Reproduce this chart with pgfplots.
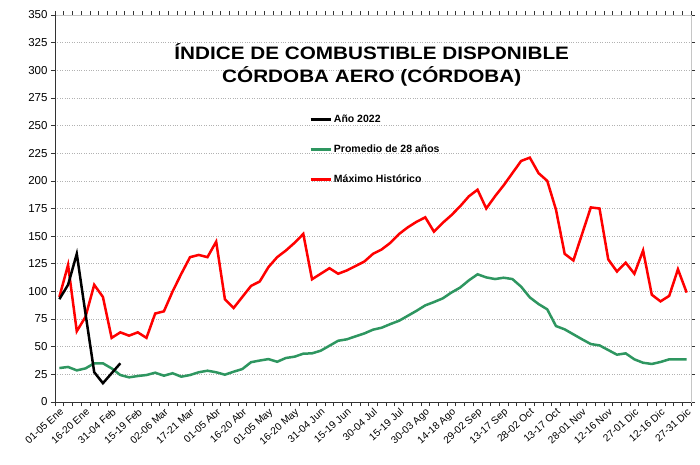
\documentclass[border=0pt]{standalone}
\usepackage{pgfplots}
\pgfplotsset{compat=1.18}
\usepackage{pgfplotstable}
\usepackage{fontspec}
\setmainfont{Liberation Sans}
\definecolor{avg}{RGB}{46,150,96}

\pgfplotstableread{
x red green
0 95 30.7
1 124 31.7
2 64 28.6
3 77 30.4
4 106 35
5 95 35
6 58 30.4
7 63 24.4
8 60 22.3
9 63 23.5
10 58 24.4
11 80 26.5
12 82 23.8
13 100 26
14 116 22.9
15 131 24.4
16 133 26.9
17 131 28.3
18 145 26.9
19 93 24.7
20 85 27.4
21 95 29.8
22 105 36
23 109 37.5
24 122 38.8
25 131 36.4
26 137 39.8
27 144 41
28 152 43.7
29 111 44
30 116 46.4
31 121 50.9
32 116 55.4
33 119 56.7
34 123 59.4
35 127 62
36 134 65.4
37 138 67.2
38 144 70.5
39 152 73.5
40 158 78
41 163 82.5
42 167 87.4
43 154 90.4
44 162 93.7
45 169 99
46 177 103.5
47 186 110
48 192 115.5
49 175 112.7
50 186 111.2
51 196 112.4
52 207 111.2
53 218 104.3
54 221 94.6
55 207 88.6
56 200 83.8
57 174 68.7
58 134 65.7
59 128 61.2
60 152 56.7
61 176 52.4
62 175 51.2
63 129 47
64 118 42.8
65 126 44
66 116 38.6
67 137 35.5
68 97 34.4
69 91 36.2
70 96 38.6
71 120 38.6
72 99 38.6
}\maindata

\pgfplotstableread{
x y
0 93
1 106
2 134
3 80
4 27
5 17
6 26
7 35
}\yeardata

\begin{document}
\begin{tikzpicture}
\begin{axis}[
  at={(0,0)}, anchor=south west,
  scale only axis, width=636pt, height=387pt,
  xmin=-0.5, xmax=72.5, ymin=0, ymax=350,
  ytick={0,25,...,350},
  xtick={0,3,...,72},
  xticklabels={01-05 Ene,16-20 Ene,31-04 Feb,15-19 Feb,02-06 Mar,17-21 Mar,01-05 Abr,16-20 Abr,01-05 May,16-20 May,31-04 Jun,15-19 Jun,30-04 Jul,15-19 Jul,30-03 Ago,14-18 Ago,29-02 Sep,13-17 Sep,28-02 Oct,13-17 Oct,28-01 Nov,12-16 Nov,27-01 Dic,12-16 Dic,27-31 Dic},
  minor xtick={-0.5,0.5,...,72.5},
  major x tick style={draw=none},
  tick align=outside,
  major tick length=4pt, minor tick length=4pt,
  tick style={black!80, line width=0.6pt},
  x tick label style={rotate=42, anchor=north east, font=\fontsize{10.2}{12}\selectfont, inner sep=1pt},
  y tick label style={font=\fontsize{11.5}{13}\selectfont},
  /pgf/number format/assume math mode=true,
  ymajorgrids,
  major grid style={dotted, gray!60, line width=0.6pt},
  axis line style={draw=gray!45, line width=0.8pt},
  title={\scalebox{1.15}[1]{ÍNDICE DE COMBUSTIBLE DISPONIBLE}\\\scalebox{1.15}[1]{CÓRDOBA AERO (CÓRDOBA)}},
  title style={at={(axis description cs:0.498,0.855)}, anchor=center, align=center, font=\bfseries\fontsize{18}{23}\selectfont},
  legend style={at={(axis description cs:0.395,0.753)}, anchor=north west, draw=none, fill=none, font=\bfseries\fontsize{10.5}{12}\selectfont, row sep=17pt, cells={anchor=west}},
  legend image code/.code={\draw[#1] (0pt,0pt) -- (20pt,0pt);},
]
\addlegendimage{black, line width=2.5pt}
\addlegendentry{Año 2022}
\addlegendimage{avg, line width=2.5pt}
\addlegendentry{Promedio de 28 años}
\addlegendimage{red, line width=2.5pt}
\addlegendentry{Máximo Histórico}
\addplot[red, line width=2.5pt, forget plot] table[x=x, y=red] {\maindata};
\addplot[avg, line width=2.5pt, forget plot] table[x=x, y=green] {\maindata};
\addplot[black, line width=2.5pt, forget plot] table[x=x, y=y] {\yeardata};
\draw[black!80, line width=0.8pt] (rel axis cs:0,1) -- (rel axis cs:0,0) -- (rel axis cs:1,0);
\end{axis}
\pgfresetboundingbox
\path[use as bounding box] (-55pt,-62pt) rectangle (645pt,402pt);
\end{tikzpicture}
\end{document}
